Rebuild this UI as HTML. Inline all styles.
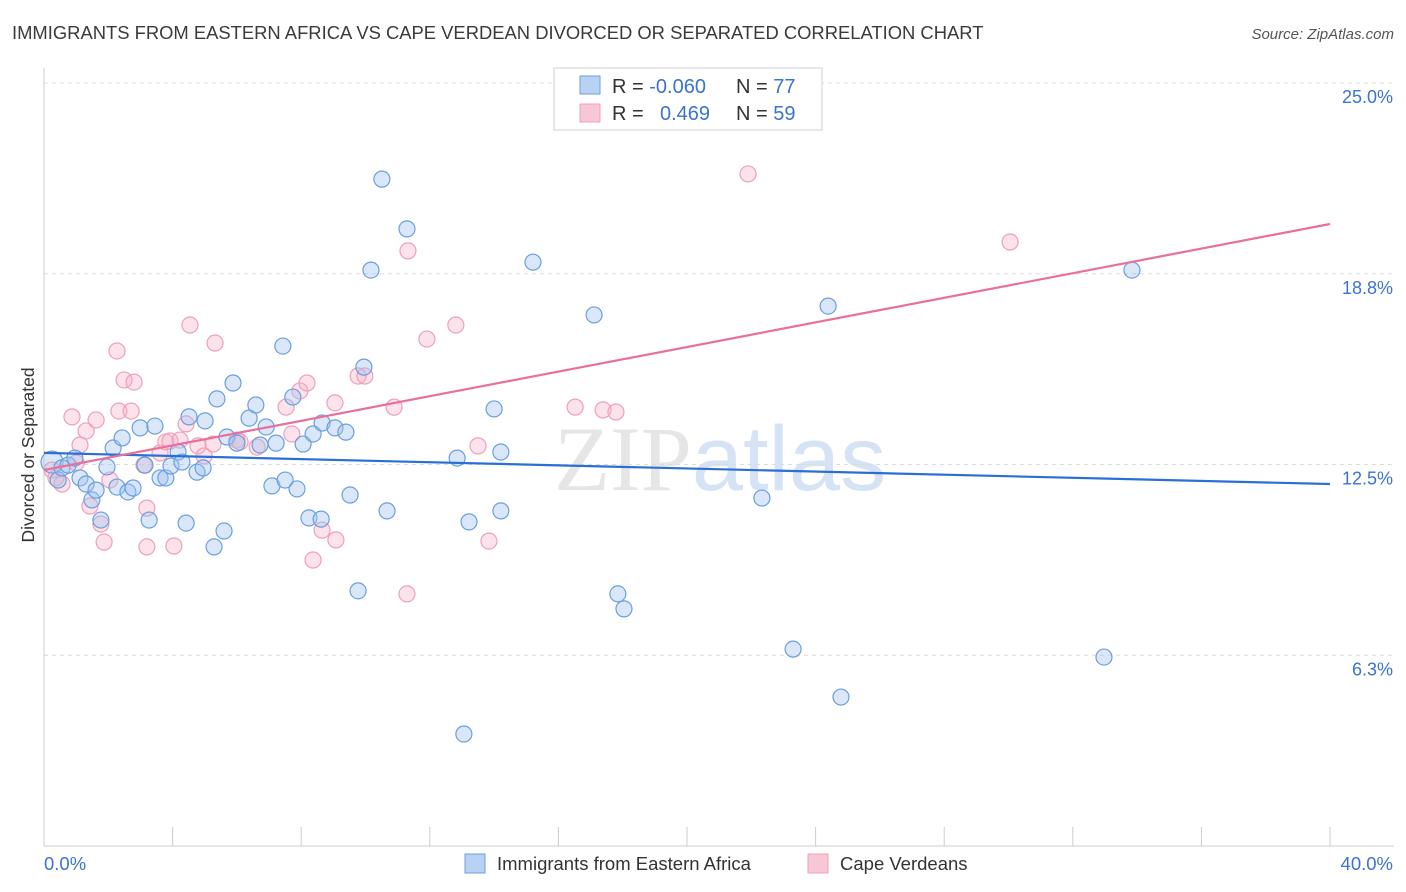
<!DOCTYPE html>
<html><head><meta charset="utf-8"><style>
body{margin:0;background:#fff;font-family:"Liberation Sans",sans-serif;}
svg{display:block}
</style></head><body>
<svg width="1406" height="892" xmlns="http://www.w3.org/2000/svg">
<text x="12" y="39" font-size="18.4" fill="#3a3a3a">IMMIGRANTS FROM EASTERN AFRICA VS CAPE VERDEAN DIVORCED OR SEPARATED CORRELATION CHART</text>
<text x="1394" y="39" font-size="15" fill="#555" font-style="italic" text-anchor="end">Source: ZipAtlas.com</text>
<text x="720" y="490" font-size="92" fill="#e6e6e6" text-anchor="middle" font-family="Liberation Serif, serif">ZIP<tspan fill="#d6e3f5" font-family="Liberation Sans, sans-serif">atlas</tspan></text>
<g id="grid"></g>
<g id="axes"></g>
<text transform="translate(34,455) rotate(-90)" font-size="17.5" fill="#333" text-anchor="middle">Divorced or Separated</text>
<g id="pts"></g>
<g id="lines"></g>
<g>
<rect x="554" y="68" width="268" height="62" fill="#fff" stroke="#d0d0d0"/>
<rect x="580" y="76" width="20" height="18" fill="#b9d1f3" stroke="#6a9fe0"/>
<rect x="580" y="104" width="20" height="18" fill="#f8c7d6" stroke="#f0a0b8"/>
<text x="612" y="93" font-size="20" fill="#333">R = <tspan fill="#3a73d0">-0.060</tspan></text>
<text x="736" y="93" font-size="20" fill="#333">N = <tspan fill="#3a73d0">77</tspan></text>
<text x="612" y="120" font-size="20" fill="#333">R = <tspan fill="#3a73d0" x="660">0.469</tspan></text>
<text x="736" y="120" font-size="20" fill="#333">N = <tspan fill="#3a73d0">59</tspan></text>
</g>
<g>
<rect x="465" y="854" width="20" height="19" fill="#b9d1f3" stroke="#6a9fe0"/>
<text x="497" y="870" font-size="18.5" fill="#333">Immigrants from Eastern Africa</text>
<rect x="808" y="854" width="20" height="19" fill="#f8c7d6" stroke="#f0a0b8"/>
<text x="840" y="870" font-size="18.5" fill="#333">Cape Verdeans</text>
</g>
</svg>
<script>
const blueX=[0.25,0.44,0.56,0.75,0.96,1.12,1.31,1.49,1.62,1.77,1.96,2.15,2.27,2.43,2.61,2.77,2.99,3.14,3.27,3.45,3.61,3.79,3.95,4.17,4.29,4.42,4.51,4.76,4.95,5.01,5.29,5.38,5.60,5.69,5.88,6.00,6.38,6.59,6.72,6.91,7.09,7.22,7.43,7.50,7.74,7.87,8.06,8.24,8.37,8.62,8.65,9.05,9.39,9.52,9.77,9.95,10.17,10.51,10.67,11.29,12.85,13.06,13.22,14.00,14.21,14.21,15.21,17.11,17.85,18.04,22.33,23.30,24.39,24.79,32.97,33.84];
const blueY=[12.58,11.99,12.39,12.48,12.71,12.06,11.86,11.34,11.66,10.68,12.42,13.04,11.76,13.37,11.60,11.73,13.70,12.48,10.68,13.76,12.06,12.06,12.45,12.91,12.58,10.58,14.06,12.25,12.39,13.93,9.80,14.65,10.32,13.40,15.17,13.20,14.02,14.45,13.14,13.73,11.80,13.20,16.38,11.99,14.71,11.70,13.17,10.75,13.50,10.71,13.86,13.70,13.56,11.50,8.36,15.69,18.87,21.85,10.98,20.22,12.71,3.67,10.62,14.32,12.91,10.98,19.13,17.40,8.26,7.77,11.40,6.45,17.69,4.88,6.19,18.87];
const pinkX=[0.25,0.37,0.56,0.87,1.00,1.12,1.31,1.43,1.62,1.77,1.87,2.05,2.27,2.33,2.49,2.71,2.80,3.11,3.20,3.20,3.61,3.79,3.92,4.04,4.23,4.42,4.54,4.79,4.98,5.26,5.32,6.00,6.10,6.63,7.53,7.71,7.96,8.18,8.37,8.65,9.05,9.08,9.77,9.98,10.89,11.32,11.29,11.91,12.81,13.50,13.84,16.52,17.39,17.79,21.90,30.05];
const pinkY=[12.32,12.06,11.86,14.06,12.55,13.14,13.60,11.14,13.96,10.55,9.96,11.99,16.22,14.25,15.27,14.25,15.20,12.48,11.07,9.80,12.88,13.24,13.27,9.83,13.30,13.83,17.07,13.11,12.78,13.17,16.48,13.30,13.24,13.07,14.38,13.50,14.91,15.17,9.37,10.35,14.52,10.03,15.40,15.40,14.38,19.50,8.26,16.61,17.07,13.11,9.99,14.38,14.29,14.22,22.02,19.79];
const blueLine=[12.88,11.86];
const pinkLine=[12.32,20.38];
const yTicks=[25.0,18.8,12.5,6.3];
const yTickVals=[25,18.75,12.5,6.25];
const NS="http://www.w3.org/2000/svg";
const X0=44,X1=1330,Y0=846,Y25=83;
function sx(v){return X0+(X1-X0)*v/40;}
function sy(v){return Y0-(Y0-Y25)*v/25;}
function mk(tag,attrs,parent){const e=document.createElementNS(NS,tag);for(const k in attrs)e.setAttribute(k,attrs[k]);parent.appendChild(e);return e;}
const grid=document.getElementById('grid'),axes=document.getElementById('axes'),pts=document.getElementById('pts'),lines=document.getElementById('lines');
yTickVals.forEach((v,i)=>{
 const l=mk('line',{x1:X0,x2:1394,y1:sy(v),y2:sy(v),stroke:'#dcdcdc','stroke-dasharray':'4,4'},grid);
 
 
 const t=mk('text',{x:1393,y:sy(v)+20,'font-size':18,fill:'#3a73d0','text-anchor':'end'},axes);
 t.textContent=yTicks[i].toFixed(1)+'%';
 
 
});
mk('line',{x1:X0,x2:X0,y1:68,y2:Y0,stroke:'#ccc'},axes);
mk('line',{x1:X0,x2:1394,y1:Y0,y2:Y0,stroke:'#ccc'},axes);
for(let i=0;i<=10;i++){const tk=mk('line',{x1:sx(i*4),x2:sx(i*4),y1:827,y2:Y0,stroke:'#ccc'},axes);
 
 }
const xl=mk('text',{x:44,y:870,'font-size':18.5,fill:'#3a73d0'},axes);xl.textContent='0.0%';


const xr=mk('text',{x:1393,y:870,'font-size':18.5,fill:'#3a73d0','text-anchor':'end'},axes);xr.textContent='40.0%';


pinkX.forEach((x,i)=>{const c=mk('circle',{cx:sx(x),cy:sy(pinkY[i]),r:8,fill:'rgba(245,175,198,0.35)',stroke:'#eea0b9','stroke-width':1.2},pts);
 
 });
blueX.forEach((x,i)=>{const c=mk('circle',{cx:sx(x),cy:sy(blueY[i]),r:i==0?11:8,fill:'rgba(160,195,240,0.4)',stroke:'#6a9fe0','stroke-width':1.2},pts);
 
 });
const bl=mk('line',{x1:sx(0),y1:sy(blueLine[0]),x2:sx(40),y2:sy(blueLine[1]),stroke:'#2a6fd6','stroke-width':2.2},lines);


const pl=mk('line',{x1:sx(0),y1:sy(pinkLine[0]),x2:sx(40),y2:sy(pinkLine[1]),stroke:'#e8709a','stroke-width':2.2},lines);


</script>
</body></html>
